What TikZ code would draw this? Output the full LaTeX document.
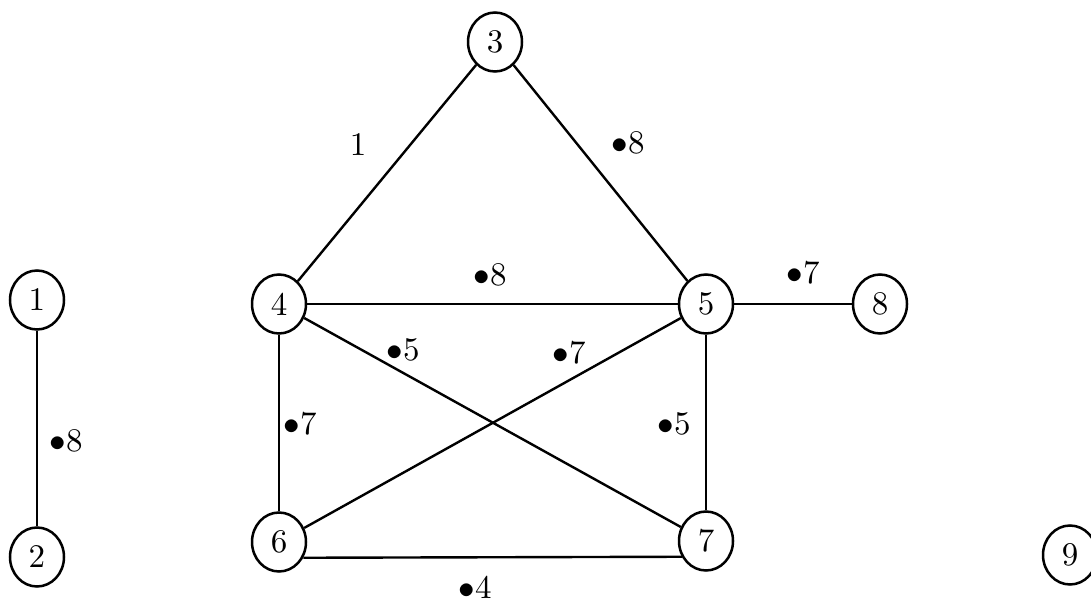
\documentclass[tikz,border=0pt]{standalone}
\usepackage{graphicx}
\usetikzlibrary{shapes.geometric}
% numbers are set at 10pt and enlarged, keeping the sturdier 10pt design
\newcommand{\bignum}[1]{\scalebox{1.65}{#1}}
\begin{document}
\begin{tikzpicture}[x=0.5pt,y=-0.5pt,
  vtx/.style={draw,ellipse,line width=1.25pt,minimum width=27pt,minimum height=29.5pt,inner sep=0pt,font=\fontsize{10}{12}\selectfont},
  edge/.style={line width=1.2pt},
  wlabel/.style={font=\fontsize{10}{12}\selectfont,inner sep=0pt}]
\useasboundingbox (0,0) rectangle (1091,604);
\clip (0,0) rectangle (1091,604);

% vertices
\node[vtx] (n1) at (37,300) {\bignum{1}};
\node[vtx] (n2) at (37,557) {\bignum{2}};
\node[vtx] (n3) at (495,42) {\bignum{3}};
\node[vtx] (n4) at (279,304) {\bignum{4}};
\node[vtx] (n5) at (706,304) {\bignum{5}};
\node[vtx] (n6) at (279,542) {\bignum{6}};
\node[vtx] (n7) at (706,541) {\bignum{7}};
\node[vtx] (n8) at (880,304) {\bignum{8}};
\node[vtx] (n9) at (1070,555) {\bignum{9}};

% edges
\draw[edge] (n1) -- (n2);
\draw[edge] (n3) -- (n4);
\draw[edge] (n3) -- (n5);
\draw[edge] (n4.east) -- (n5.west);
\draw[edge] (n4.south) -- (n6.north);
\draw[edge] (n4) -- (n7);
\draw[edge] (n6) -- (n5);
\draw[edge] (n5.south) -- (n7.north);
\draw[edge] (n6.-33) -- (n7.213);
\draw[edge] (n5.east) -- (n8.west);

% weights
\node[wlabel] (w34) at (358,145) {\bignum{1}};
\node[wlabel] (w35) at (628,143) {\bignum{$\bullet$8}};
\node[wlabel] (w45) at (490,275) {\bignum{$\bullet$8}};
\node[wlabel] (w58) at (803,273) {\bignum{$\bullet$7}};
\node[wlabel] (w47) at (403,350) {\bignum{$\bullet$5}};
\node[wlabel] (w65) at (569,353) {\bignum{$\bullet$7}};
\node[wlabel] (w46) at (300,424) {\bignum{$\bullet$7}};
\node[wlabel] (w57) at (674,424) {\bignum{$\bullet$5}};
\node[wlabel] (w12) at (66,441) {\bignum{$\bullet$8}};
\node[wlabel] (w67) at (475,587) {\bignum{$\bullet$4}};
\end{tikzpicture}
\end{document}
